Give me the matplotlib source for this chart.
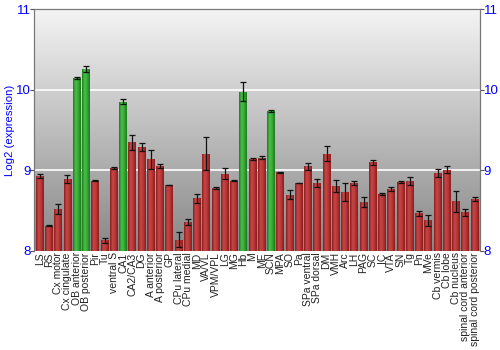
import matplotlib
matplotlib.use("Agg")
import matplotlib.pyplot as plt
import numpy as np

regions = ["LS", "RS", "Cx motor", "Cx cingulate", "OB anterior", "OB posterior",
           "Pir", "Tu", "ventral S", "CA1", "CA2/CA3", "DG", "A anterior",
           "A posterior", "GP", "CPu lateral", "CPu medial", "MD", "VA/VL",
           "VPM/VPL", "LG", "MG", "Hb", "M", "ME", "SCN", "MPA", "SO", "Pa",
           "SPa ventral", "SPa dorsal", "DM", "VMH", "Arc", "LH", "PAG", "SC",
           "IC", "VTA", "SN", "Tg", "Pn", "MVe", "Cb vermis", "Cb lobe",
           "Cb nucleus", "spinal cord anterior", "spinal cord posterior"]

expr = [8.93, 8.315, 8.52, 8.89, 10.15, 10.26, 8.875, 8.13, 9.03, 9.855,
        9.35, 9.29, 9.14, 9.05, 8.82, 8.14, 8.36, 8.655, 9.21, 8.785,
        8.96, 8.875, 9.98, 9.145, 9.16, 9.74, 8.975, 8.70, 8.845, 9.05,
        8.845, 9.21, 8.81, 8.73, 8.84, 8.605, 9.10, 8.71, 8.765, 8.855,
        8.87, 8.47, 8.38, 8.97, 9.01, 8.62, 8.48, 8.645]

err = [0.02, 0.01, 0.06, 0.05, 0.015, 0.04, 0.005, 0.03, 0.015, 0.035,
       0.095, 0.05, 0.12, 0.025, 0.005, 0.095, 0.04, 0.055, 0.2, 0.01,
       0.07, 0.01, 0.12, 0.01, 0.02, 0.01, 0.004, 0.06, 0.005, 0.04,
       0.045, 0.09, 0.075, 0.115, 0.025, 0.06, 0.035, 0.01, 0.025, 0.01,
       0.05, 0.03, 0.07, 0.05, 0.04, 0.13, 0.04, 0.02]

highlight = ["OB anterior", "OB posterior", "CA1", "Hb", "SCN"]

blue = "#0000ff"
plt.rcParams["font.family"] = ["Liberation Sans", "DejaVu Sans"]
fig = plt.figure(figsize=(5, 3.5), dpi=100)
ax = fig.add_axes([0.068, 0.283, 0.892, 0.69])

x = np.arange(len(regions))
ax.set_xlim(-0.62, len(regions) - 0.42)
ax.set_ylim(8, 11)

# background gradient
grad = np.linspace(0, 1, 256).reshape(-1, 1)
bg = matplotlib.colors.LinearSegmentedColormap.from_list("bg", ["#878787", "#f4f4f4"])
ax.imshow(grad, cmap=bg, aspect="auto", origin="lower",
          extent=[-0.62, len(regions) - 0.42, 8, 11], zorder=0)

for yv in [9, 10]:
    ax.axhline(yv, color="white", lw=1.2, zorder=1)

red_cm = matplotlib.colors.LinearSegmentedColormap.from_list(
    "r", ["#8a1e1e", "#c64848", "#b83434", "#8a1e1e"])
green_cm = matplotlib.colors.LinearSegmentedColormap.from_list(
    "g", ["#1c7a1c", "#4cbf4c", "#33a833", "#1c7a1c"])
hgrad = np.linspace(0, 1, 64).reshape(1, -1)

colors = ["#2f9e2f" if r in highlight else "#b03030" for r in regions]
bars = ax.bar(x, [v - 8 for v in expr], bottom=8, width=0.86, color=colors, zorder=2)
for b, r in zip(bars, regions):
    cm = green_cm if r in highlight else red_cm
    im = ax.imshow(hgrad, cmap=cm, aspect="auto",
                   extent=[b.get_x(), b.get_x() + b.get_width(), 8, 8 + b.get_height()],
                   zorder=2.5)
    im.set_clip_path(b)

ax.errorbar(x, expr, yerr=err, fmt="none", ecolor="#111111", elinewidth=0.9,
            capsize=2, capthick=0.9, zorder=3)

ax.set_xticks(x)
ax.set_xticklabels(regions, rotation=90, fontsize=7.5, color="#222222")
ax.tick_params(axis="x", length=0, pad=1)

ax.set_yticks([8, 9, 10, 11])
ax.tick_params(axis="y", labelsize=9.5, length=3, pad=-0.5, color="#555555", labelcolor=blue)
ax.set_ylabel("Log2 (expression)", color=blue, fontsize=8.2)
ax.yaxis.set_label_coords(-0.043, 0.5)

ax2 = ax.twinx()
ax2.set_ylim(8, 11)
ax2.set_yticks([8, 9, 10, 11])
ax2.tick_params(axis="y", labelsize=9.5, length=3, pad=-0.5, color="#555555", labelcolor=blue)

for a in (ax, ax2):
    for s in a.spines.values():
        s.set_color("#777777")
        s.set_linewidth(0.8)
    a.spines["bottom"].set_visible(False)

fig.savefig("out.png", dpi=100)
